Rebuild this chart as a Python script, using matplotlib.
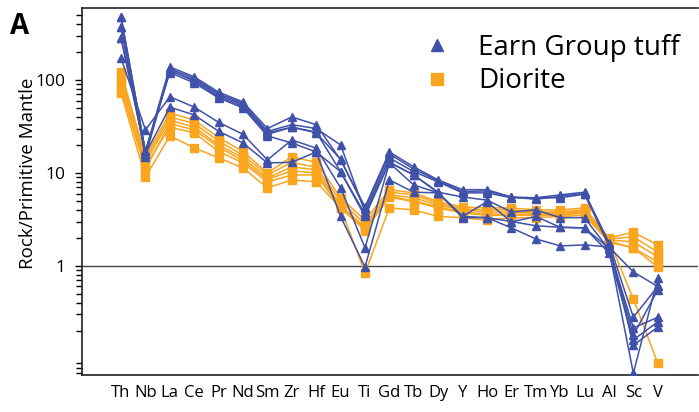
import matplotlib
matplotlib.use("Agg")
import matplotlib.pyplot as plt
from matplotlib.lines import Line2D
from matplotlib.ticker import LogLocator, NullFormatter, FixedLocator, FixedFormatter

plt.rcParams['font.family'] = ['Open Sans', 'DejaVu Sans']

elements = ["Th", "Nb", "La", "Ce", "Pr", "Nd", "Sm", "Zr", "Hf", "Eu", "Ti", "Gd",
            "Tb", "Dy", "Y", "Ho", "Er", "Tm", "Yb", "Lu", "Al", "Sc", "V"]

tuff_1 = [477, 17, 138, 108, 74, 58, 30, 40, 33, 13.8, 4.3, 16.8, 11.6, 8.4, 6.6, 6.6, 5.5, 5.4, 5.8, 6.2, 1.77, 0.28, 0.6]
tuff_2 = [372, 16, 132, 104, 71, 56, 28, 33, 30, 20, 3.8, 14.5, 10.3, 8.0, 6.1, 6.1, 5.4, 5.4, 5.4, 5.9, 1.65, 0.18, 0.55]
tuff_3 = [284, 17, 125, 100, 69, 54, 27, 31, 27.5, 10.3, 3.4, 13, 9.5, 6.2, 5.5, 5.1, 3.8, 4.0, 3.3, 3.3, 1.5, 0.07, 0.74]
tuff_4 = [172, 29, 66, 51, 35, 26, 13.8, 22.6, 18.5, 6.9, 1.56, 12.8, 7.4, 6.1, 3.4, 4.9, 2.97, 3.4, 2.6, 2.56, 1.38, 0.16, 0.25]
tuff_5 = [284, 16, 51, 42, 28, 21, 12.8, 13, 16.8, 3.4, 0.97, 8.4, 6.2, 6.1, 3.3, 3.3, 2.56, 1.95, 1.64, 1.68, 1.6, 0.86, 0.6]
tuff_6 = [372, 15, 128, 97, 66, 52, 26, 31, 27, 14, 4.1, 16, 11, 8.2, 6.3, 6.4, 5.5, 5.2, 5.6, 6.0, 1.7, 0.14, 0.22]
tuff_7 = [477, 17, 120, 93, 64, 50, 25, 21, 16.8, 10.3, 3.6, 13, 9.5, 6.1, 3.4, 3.3, 3.0, 2.7, 2.6, 2.56, 1.55, 0.215, 0.28]

diorite_1 = [122, 15, 44, 37, 24, 17, 10, 14.9, 13, 5.4, 3.1, 6.6, 6.1, 4.9, 4.3, 4.2, 4.2, 4.0, 4.0, 4.2, 2.0, 2.3, 1.68]
diorite_2 = [110, 14, 40, 34, 22, 15.5, 9.5, 13, 11.5, 5.0, 2.8, 6.2, 5.8, 4.7, 4.1, 4.0, 4.0, 3.8, 3.8, 4.0, 1.95, 2.05, 1.41]
diorite_3 = [100, 13, 37, 31, 20, 14.5, 8.8, 11.6, 10.8, 4.5, 2.6, 5.8, 5.4, 4.5, 4.0, 3.8, 3.8, 3.7, 3.7, 3.9, 1.9, 1.81, 1.25]
diorite_4 = [86, 12, 31, 27, 17, 12.8, 8.0, 9.5, 9.5, 4.2, 2.4, 5.5, 4.9, 4.2, 3.7, 3.5, 3.5, 3.5, 3.5, 3.7, 1.85, 1.56, 1.1]
diorite_5 = [80, 11, 34, 29, 19, 13.5, 8.5, 10.5, 10, 4.4, 2.5, 5.6, 5.0, 4.3, 3.8, 3.6, 3.6, 3.6, 3.6, 3.8, 1.9, 0.44, 0.09]
diorite_6 = [72, 9, 25, 18.6, 14.5, 11.3, 6.9, 8.4, 8.0, 4.2, 0.84, 4.2, 4.0, 3.4, 3.3, 3.1, 3.3, 3.3, 3.4, 3.5, 1.8, 1.56, 0.975]

tuff_series = [tuff_1, tuff_2, tuff_3, tuff_4, tuff_5, tuff_6, tuff_7]
diorite_series = [diorite_1, diorite_2, diorite_3, diorite_4, diorite_5, diorite_6]

blue = "#3F51A8"
orange = "#F9A51E"

fig = plt.figure(figsize=(6.99, 4.12), dpi=100)
ax = fig.add_axes([82/699, 1 - 375/412, (698 - 82)/699, (375 - 8)/412])

x = list(range(len(elements)))
for s in diorite_series:
    ax.plot(x, s, color=orange, lw=1.1, marker="s", ms=5.5, mec=orange, mfc=orange, zorder=2)
for s in tuff_series:
    ax.plot(x, s, color=blue, lw=1.1, marker="^", ms=5.5, mec=blue, mfc=blue, zorder=3)

ax.axhline(1, color="#444444", lw=1.0, zorder=1)

ax.set_yscale("log")
ax.set_ylim(0.067, 594)
ax.set_xlim(-1.6, 23.65)
ax.yaxis.set_major_locator(FixedLocator([1, 10, 100]))
ax.yaxis.set_major_formatter(FixedFormatter(["1", "10", "100"]))
ax.yaxis.set_minor_locator(LogLocator(base=10, subs=range(2, 10)))
ax.yaxis.set_minor_formatter(NullFormatter())
ax.tick_params(axis="y", which="major", direction="out", length=5, width=1, labelsize=12.5, pad=7)
ax.tick_params(axis="y", which="minor", direction="out", length=4, width=1)
ax.set_xticks(x)
ax.set_xticklabels(elements)
ax.tick_params(axis="x", length=0, labelsize=12, pad=7)

ax.spines["right"].set_visible(False)
for sp in ["left", "top", "bottom"]:
    ax.spines[sp].set_linewidth(1.2)
    ax.spines[sp].set_color("#222222")

ax.set_ylabel("Rock/Primitive Mantle", fontsize=13.5)
ax.yaxis.set_label_coords(-0.073, 0.55)

handles = [Line2D([], [], color=blue, marker="^", ls="none", ms=9),
           Line2D([], [], color=orange, marker="s", ls="none", ms=9)]
fig.legend(handles, ["Earn Group tuff", "Diorite"], loc="upper left",
           bbox_to_anchor=(407/699, 1 - 20/412), frameon=False, fontsize=20,
           handlelength=1.15, handletextpad=0.9, labelspacing=0.2, borderpad=0)

fig.text(10/699, 1 - 12/412, "A", fontsize=20, fontweight="bold", va="top", ha="left")

fig.savefig("out.png", dpi=100)
